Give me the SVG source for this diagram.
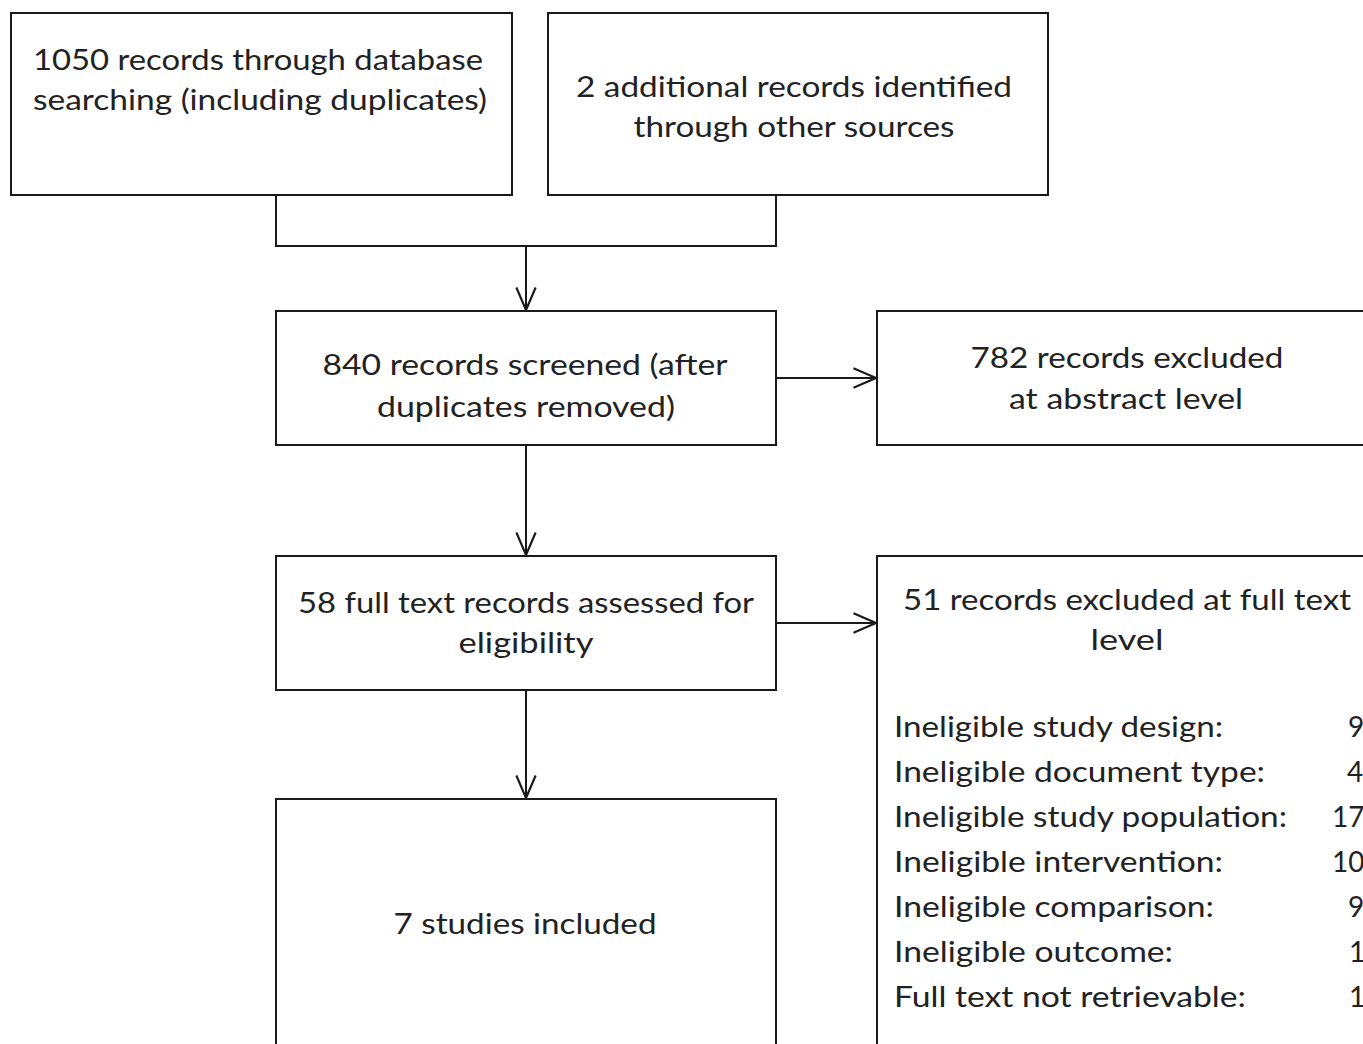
<svg xmlns="http://www.w3.org/2000/svg" width="1363" height="1044" viewBox="0 0 1363 1044">
<style>
.box{fill:#fff;stroke:#1a1a1a;stroke-width:2}
.t{font-family:Lato,"Liberation Sans",sans-serif;font-size:28px;fill:#222}
.c{text-anchor:middle}
.e{text-anchor:end}
.ln{fill:none;stroke:#1a1a1a;stroke-width:2}
</style>
<defs>
<marker id="arr" markerUnits="userSpaceOnUse" markerWidth="30" markerHeight="30" viewBox="-24 -12 28 24" refX="0" refY="0" orient="auto">
<path d="M-21,-9 L0,0 L-21,9" fill="none" stroke="#1a1a1a" stroke-width="2"/>
</marker>
</defs>
<rect width="1363" height="1044" fill="#fff"/>
<g id="connectors">
<path class="ln" d="M276,195 V246 H776 V195"/>
<path class="ln" d="M526,246 V310" marker-end="url(#arr)"/>
<path class="ln" d="M776,378 H876" marker-end="url(#arr)"/>
<path class="ln" d="M526,445 V555" marker-end="url(#arr)"/>
<path class="ln" d="M776,623 H876" marker-end="url(#arr)"/>
<path class="ln" d="M526,690 V798" marker-end="url(#arr)"/>
</g>
<g id="n1">
<rect class="box" x="11" y="13" width="501" height="182"/>
<text class="t" x="33" y="70" textLength="450" lengthAdjust="spacingAndGlyphs">1050 records through database</text>
<text class="t" x="33" y="110" textLength="454" lengthAdjust="spacingAndGlyphs">searching (including duplicates)</text>
</g>
<g id="n2">
<rect class="box" x="548" y="13" width="500" height="182"/>
<text class="t c" x="794" y="97" textLength="436" lengthAdjust="spacingAndGlyphs">2 additional records identified</text>
<text class="t c" x="794" y="137" textLength="321" lengthAdjust="spacingAndGlyphs">through other sources</text>
</g>
<g id="n3">
<rect class="box" x="276" y="311" width="500" height="134"/>
<text class="t c" x="525" y="375" textLength="405" lengthAdjust="spacingAndGlyphs">840 records screened (after</text>
<text class="t c" x="526" y="417" textLength="298" lengthAdjust="spacingAndGlyphs">duplicates removed)</text>
</g>
<g id="n4">
<rect class="box" x="877" y="311" width="500" height="134"/>
<text class="t c" x="1127" y="368" textLength="313" lengthAdjust="spacingAndGlyphs">782 records excluded</text>
<text class="t c" x="1126" y="409" textLength="234" lengthAdjust="spacingAndGlyphs">at abstract level</text>
</g>
<g id="n5">
<rect class="box" x="276" y="556" width="500" height="134"/>
<text class="t c" x="526" y="613" textLength="456" lengthAdjust="spacingAndGlyphs">58 full text records assessed for</text>
<text class="t c" x="526" y="653" textLength="135" lengthAdjust="spacingAndGlyphs">eligibility</text>
</g>
<g id="n6">
<rect class="box" x="877" y="556" width="500" height="500"/>
<text class="t c" x="1127" y="610" textLength="448" lengthAdjust="spacingAndGlyphs">51 records excluded at full text</text>
<text class="t c" x="1127" y="650" textLength="73" lengthAdjust="spacingAndGlyphs">level</text>
<text class="t" x="894" y="737" textLength="329" lengthAdjust="spacingAndGlyphs">Ineligible study design:</text>
<text class="t" x="894" y="782" textLength="371" lengthAdjust="spacingAndGlyphs">Ineligible document type:</text>
<text class="t" x="894" y="827" textLength="393" lengthAdjust="spacingAndGlyphs">Ineligible study population:</text>
<text class="t" x="894" y="872" textLength="329" lengthAdjust="spacingAndGlyphs">Ineligible intervention:</text>
<text class="t" x="894" y="917" textLength="320" lengthAdjust="spacingAndGlyphs">Ineligible comparison:</text>
<text class="t" x="894" y="962" textLength="279" lengthAdjust="spacingAndGlyphs">Ineligible outcome:</text>
<text class="t" x="894" y="1007" textLength="352" lengthAdjust="spacingAndGlyphs">Full text not retrievable:</text>
<text class="t" x="1348" y="737">9</text>
<text class="t" x="1347" y="782">4</text>
<text class="t" x="1332" y="827">17</text>
<text class="t" x="1332" y="872">10</text>
<text class="t" x="1348" y="917">9</text>
<text class="t" x="1349" y="962">1</text>
<text class="t" x="1349" y="1007">1</text>
</g>
<g id="n7">
<rect class="box" x="276" y="799" width="500" height="300"/>
<text class="t c" x="525" y="934" textLength="263" lengthAdjust="spacingAndGlyphs">7 studies included</text>
</g>
</svg>
